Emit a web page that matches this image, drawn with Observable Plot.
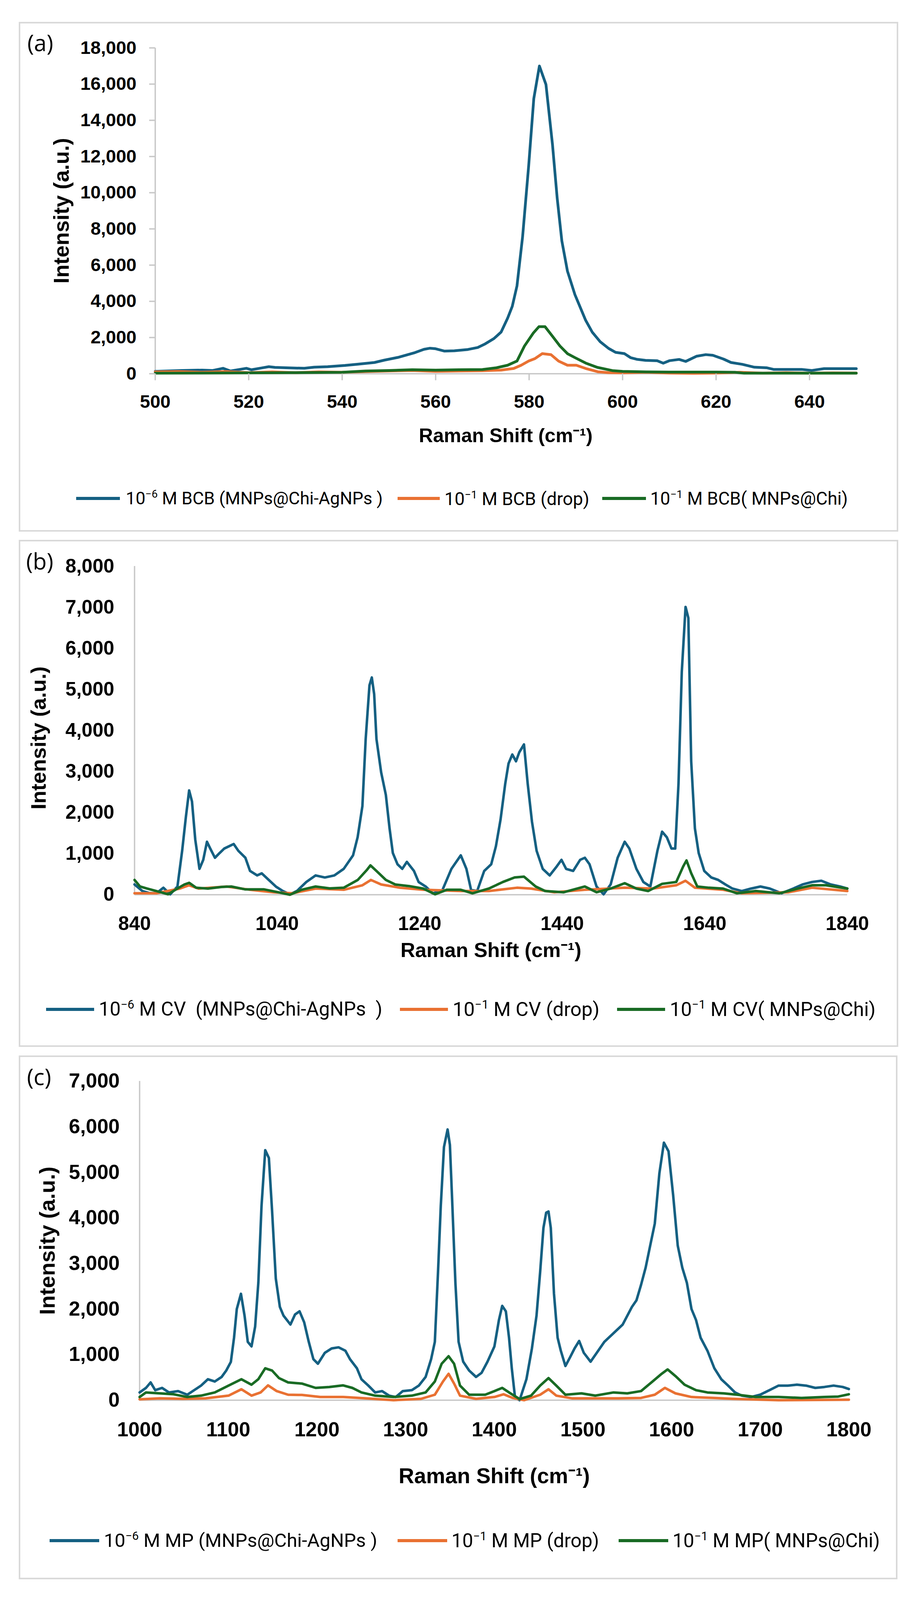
<!DOCTYPE html>
<html><head><meta charset="utf-8">
<script src="https://cdn.jsdelivr.net/npm/d3@7"></script>
<script src="https://cdn.jsdelivr.net/npm/@observablehq/plot@0.6"></script>
<style>
html,body{margin:0;padding:0;background:#fff;}
#page{position:relative;width:2348px;height:4288px;background:#fff;overflow:hidden;}
.panel{position:absolute;box-sizing:border-box;border:4px solid #d9d9d9;background:#fff;}
.tag{position:absolute;font-family:'Open Sans','Noto Sans',sans-serif;font-size:58px;line-height:1;color:#000;white-space:pre;}
.legend-line{position:absolute;height:8px;}
.legend-text{position:absolute;font-family:Roboto,'Noto Sans',sans-serif;white-space:pre;line-height:1;color:#000;}
.legend-text sup{font-size:0.62em;vertical-align:0.6em;line-height:0;}
.plotbox{position:absolute;left:0;}
.plotbox svg{overflow:visible;}
</style></head><body><div id="page"></div>
<script>
// ---------- DATA ----------
const seriesColors = ["#156082", "#E97132", "#196B24"];

// Panel (a) BCB, Raman shift 500-650
const xTicksA = [500, 520, 540, 560, 580, 600, 620, 640];
const yTicksA = [0, 2000, 4000, 6000, 8000, 10000, 12000, 14000, 16000, 18000];
const bcbAg = [[500,130],[505.6,180],[510,200],[512.3,180],[514.5,300],[516.1,150],[519.5,300],[520.6,220],[522.8,320],[524.3,390],[525.6,350],[528,330],[531.9,300],[534,360],[536.9,390],[540.6,460],[543,520],[546.9,620],[549,750],[551.9,900],[555.6,1170],[557.5,1350],[558.8,1410],[560,1380],[561.9,1250],[564,1270],[566.9,1340],[569,1450],[570.6,1650],[572.5,1950],[574,2300],[575.4,3070],[576.4,3730],[577.4,4850],[578.6,7560],[579.9,11480],[581,15200],[582.2,17000],[583.6,15980],[585,12660],[586,9710],[587,7340],[588.2,5670],[589.8,4370],[592.1,2950],[593.5,2300],[595.2,1770],[597,1400],[598.5,1180],[600.4,1110],[601.7,890],[603,800],[604.9,740],[607.4,720],[608.7,585],[610,720],[612.1,790],[613.5,680],[615.8,965],[617.8,1055],[619.3,1020],[621.6,810],[623.2,620],[625.6,520],[628.2,360],[630.8,330],[632.3,240],[635,240],[638.3,240],[640.5,180],[642,240],[643.1,280],[646,280],[650,280]];
const bcbDrop = [[500,100],[505,120],[510,80],[515,120],[520,60],[525,100],[530,60],[535,100],[540,80],[545,120],[550,150],[555,180],[560,130],[565,150],[570,170],[574,200],[576.7,290],[578.3,470],[579.9,700],[581.2,830],[582.8,1110],[584.7,1050],[586.3,700],[588.2,470],[590.1,470],[592.1,290],[594.7,110],[597,60],[600,50],[605,80],[610,40],[615,20],[620,40],[625,80],[630,30],[635,60],[640,30],[645,50],[650,40]];
const bcbChi = [[500,30],[510,40],[520,50],[530,60],[540,80],[545,150],[550,180],[555,220],[560,200],[565,220],[570,230],[573,330],[575.4,470],[577.4,700],[579,1530],[580.9,2250],[582.1,2600],[583.4,2600],[585,2070],[586.6,1530],[588.2,1110],[589.8,890],[592.1,590],[594.6,350],[597.8,175],[600,130],[605,100],[610,90],[620,90],[624,80],[626,30],[640,30],[650,30]];

// Panel (b) CV, Raman shift 840-1840
const xTicksB = [840, 1040, 1240, 1440, 1640, 1840];
const yTicksB = [0, 1000, 2000, 3000, 4000, 5000, 6000, 7000, 8000];
const cvAg = [[840,250],[851,90],[861,40],[870.7,35],[880.5,170],[890,10],[900.2,200],[906.8,1070],[912,1890],[916.6,2540],[920.6,2270],[925.2,1340],[931.1,630],[936.4,850],[941.6,1290],[946.2,1125],[952.8,900],[959.3,1015],[965.9,1125],[972.5,1180],[979.1,1235],[985.6,1070],[995.5,900],[1002,580],[1012,470],[1018.5,520],[1028.3,360],[1038.2,200],[1048,90],[1058,10],[1067.8,90],[1081,310],[1094,470],[1107,420],[1120.3,470],[1133.5,630],[1146.6,960],[1153,1400],[1159.7,2160],[1164.3,3795],[1169.6,5100],[1172.9,5290],[1176.2,4885],[1179.4,3795],[1186,2980],[1192.6,2430],[1197.8,1615],[1202.4,1015],[1209,740],[1215.6,630],[1222.1,800],[1232,580],[1238.6,310],[1248.4,200],[1258.3,35],[1271.4,90],[1284.6,630],[1297.7,960],[1305.6,630],[1312.2,115],[1320.7,90],[1330.6,580],[1340.4,740],[1347,1180],[1353.5,1830],[1360.1,2705],[1364.7,3195],[1370,3415],[1375.2,3250],[1379.8,3470],[1386.4,3660],[1391.6,2705],[1397.6,1780],[1404.1,1070],[1412.7,630],[1422.5,470],[1432.4,690],[1439,850],[1445.5,630],[1455.4,580],[1465.2,850],[1471.8,900],[1478.4,740],[1488.2,200],[1498.1,10],[1508,250],[1517.8,900],[1527.7,1290],[1534.2,1125],[1544.1,630],[1553.9,310],[1563.7,200],[1573.6,1070],[1580.2,1535],[1586.8,1400],[1593.3,1125],[1598.6,1125],[1603.2,2705],[1607.8,5430],[1613.1,7010],[1617,6740],[1621,3250],[1626.2,1615],[1631.5,1015],[1639.3,580],[1649.2,420],[1659,360],[1669,250],[1678.8,150],[1691.9,90],[1705,150],[1718.2,200],[1731.3,150],[1747.8,35],[1764.2,150],[1777.3,250],[1790.5,310],[1803.6,340],[1816.7,250],[1829.9,200],[1840,150]];
const cvDrop = [[840,35],[870.7,35],[903.5,150],[916.6,230],[929.8,150],[969.2,200],[1002,120],[1035,60],[1061.2,35],[1094,150],[1133.5,120],[1159.7,230],[1171.6,360],[1186,250],[1212.3,170],[1245,120],[1297.7,90],[1337.1,90],[1376.5,170],[1396.2,150],[1429,60],[1471.8,120],[1527.7,170],[1567,150],[1600,230],[1613,340],[1626.2,170],[1665.6,120],[1691.9,35],[1757.6,60],[1790.5,170],[1840,90]];
const cvChi = [[840,360],[847.7,200],[857.5,150],[870.7,90],[887,10],[900,150],[910,250],[916.6,290],[926.5,170],[943,150],[962.6,190],[975.8,200],[995.5,130],[1021.8,130],[1041.5,60],[1058,0],[1074.3,120],[1094,200],[1113.7,155],[1133.5,170],[1153.2,360],[1166.3,610],[1171,715],[1179.4,580],[1192.6,360],[1205.7,250],[1225.4,210],[1245.1,150],[1261.6,10],[1278,120],[1297.7,120],[1314.1,35],[1337.1,150],[1356.8,310],[1373.3,420],[1386.4,440],[1402.8,200],[1416,90],[1442.2,60],[1471.8,200],[1488.2,60],[1508,150],[1527.7,280],[1544.1,150],[1560.5,90],[1580.2,265],[1600,310],[1609.8,690],[1614.4,835],[1621,525],[1629.5,200],[1645.9,170],[1665.6,150],[1685.3,35],[1711.6,90],[1744.5,35],[1770.8,150],[1790.5,230],[1810.2,230],[1840,150]];

// Panel (c) MP, Raman shift 1000-1800
const xTicksC = [1000, 1100, 1200, 1300, 1400, 1500, 1600, 1700, 1800];
const yTicksC = [0, 1000, 2000, 3000, 4000, 5000, 6000, 7000];
const mpAg = [[1000,170],[1007.2,270],[1012.4,390],[1017.6,220],[1025.3,270],[1033.1,170],[1043.4,200],[1053.8,120],[1061.5,220],[1069.3,320],[1077,460],[1084.8,410],[1092.5,510],[1097.7,650],[1102.9,840],[1106.5,1370],[1109.6,2000],[1114.3,2335],[1118.4,1850],[1122,1280],[1126.2,1180],[1130.3,1615],[1133.9,2575],[1137.5,4260],[1141.7,5485],[1145.8,5315],[1149.4,4160],[1153.6,2670],[1158.2,2046],[1162.3,1855],[1170.1,1660],[1175.3,1880],[1180.4,1950],[1185.6,1710],[1190.8,1280],[1196,900],[1201.1,800],[1208.9,1040],[1216.6,1135],[1224.4,1160],[1232.1,1085],[1237.3,900],[1245.1,700],[1250.2,460],[1258,320],[1265.7,170],[1273.5,200],[1281.3,100],[1289,70],[1296.8,200],[1307.1,220],[1314.9,320],[1322.6,510],[1328.8,900],[1333,1280],[1336.6,2815],[1339.7,4260],[1343.3,5555],[1347.4,5940],[1350,5600],[1352.6,4355],[1356.2,2575],[1359.8,1280],[1365,845],[1371.7,650],[1379.5,510],[1385.7,600],[1392.4,845],[1400.2,1180],[1405.3,1760],[1409,2070],[1413.1,1950],[1416.7,1370],[1419.8,700],[1423.4,70],[1428.6,0],[1436.3,460],[1442.5,1135],[1447.7,1855],[1451.8,2815],[1455.5,3780],[1458.6,4115],[1461.2,4140],[1463.8,3780],[1467.4,2335],[1471.5,1370],[1475.1,1085],[1480.3,750],[1485.5,940],[1490.6,1135],[1495.8,1300],[1501,1040],[1508.7,845],[1513.9,990],[1524.2,1280],[1534.6,1470],[1544.9,1660],[1555.3,2046],[1560.4,2190],[1565.6,2530],[1570.8,2910],[1575.9,3390],[1581.1,3875],[1586.3,4980],[1591.4,5650],[1596.6,5460],[1601.8,4500],[1607,3390],[1612.1,2910],[1617.3,2575],[1622.5,2000],[1627.6,1760],[1632.8,1370],[1640.5,1085],[1648.3,700],[1656.1,460],[1663.8,320],[1671.6,170],[1679.3,100],[1689.7,70],[1700,120],[1710.4,220],[1720.7,320],[1731.1,320],[1741.4,340],[1751.8,320],[1762.1,270],[1772.4,290],[1782.8,320],[1793.1,290],[1800,245]];
const mpDrop = [[1000,20],[1022.7,40],[1048.6,30],[1074.5,40],[1100.3,100],[1114.8,240],[1126.2,100],[1136.5,170],[1144.8,325],[1154.6,200],[1167.5,120],[1183,115],[1203.7,70],[1229.6,70],[1255.4,40],[1286.4,0],[1317.4,30],[1333,120],[1342.2,410],[1348.5,580],[1354.7,365],[1361.4,100],[1379.5,30],[1400.2,70],[1410.5,130],[1420.8,50],[1433.8,0],[1451.8,120],[1461.2,240],[1470,100],[1488.1,40],[1513.9,40],[1539.8,40],[1565.6,50],[1581.1,120],[1592.5,270],[1604.4,150],[1622.5,70],[1648.3,50],[1669,30],[1720.7,0],[1800,10]];
const mpChi = [[1000,70],[1007.2,170],[1022.7,150],[1038.3,130],[1053.8,70],[1069.3,100],[1084.8,170],[1100.3,320],[1114.8,460],[1126.2,340],[1133.9,460],[1141.7,700],[1149.4,650],[1157.2,485],[1167.5,390],[1183,365],[1198.5,270],[1214,290],[1229.6,325],[1239.9,270],[1250.2,170],[1265.7,100],[1286.4,70],[1307.1,100],[1322.6,170],[1333,410],[1340.7,800],[1348.5,965],[1354.7,800],[1361.4,320],[1371.7,120],[1389.8,120],[1400.2,200],[1409,270],[1418.3,150],[1428.6,25],[1441.5,100],[1451.8,320],[1461.2,485],[1470,320],[1480.3,120],[1498.4,150],[1513.9,100],[1534.6,170],[1550.1,150],[1565.6,200],[1578.5,410],[1588.9,580],[1595.6,675],[1604.4,530],[1614.7,340],[1627.6,220],[1640.5,170],[1658.7,150],[1674.2,120],[1694.9,70],[1720.7,70],[1746.6,50],[1772.4,70],[1788,80],[1800,130]];

// Labels
const panelTags = ["(a)", "(b)", "(c)"];
const xLabel = "Raman Shift (cm\u207B\u00B9)";
const yLabel = "Intensity (a.u.)";
const legendA = [["\u22126", " M BCB (MNPs@Chi-AgNPs )"], ["\u22121", " M BCB (drop)"], ["\u22121", " M BCB( MNPs@Chi)"]];
const legendB = [["\u22126", " M CV  (MNPs@Chi-AgNPs  )"], ["\u22121", " M CV (drop)"], ["\u22121", " M CV( MNPs@Chi)"]];
const legendC = [["\u22126", " M MP (MNPs@Chi-AgNPs )"], ["\u22121", " M MP (drop)"], ["\u22121", " M MP( MNPs@Chi)"]];

// ---------- LAYOUT ----------
// The design is laid out on a 2348 x 4288 grid; if the window shows less height,
// vertical positions are compressed so that the whole figure stays visible.
const DESIGN_H = 4288;
const KY = Math.min(1, (window.innerHeight || DESIGN_H) / DESIGN_H);
const Y = v => v * KY;

const page = document.getElementById("page");
page.style.height = Math.floor(Y(DESIGN_H)) + "px";
const fmtY = d3.format(",");
const axisGray = "#c8c8c8";

const panels = [
  {box:[48,59,2252,1366], tagBase:[70,138], svgTop:64, height:1166, mL:397, mR:156, mT:64, mB:229,
   xDomain:[500,650], yDomain:[0,18000], xTicks:xTicksA, yTicks:yTicksA, series:[bcbAg,bcbDrop,bcbChi], sw:7,
   tickFont:47, xTickSize:18, yTickSize:15, xPad:38, yPad:33, yLabFont:55, yLabDx:-239, yLabDy:0, xLabFont:50, xLabDy:167,
   legend:legendA, legCy:1336, legItems:[[195,307,322,980],[1018,1126,1138,1509],[1542,1654,1665,2171]]},
  {box:[48,1447,2252,1359], tagBase:[67,1527], svgTop:1452, height:1168, mL:344, mR:179, mT:65, mB:223,
   xDomain:[840,1840], yDomain:[0,8000], xTicks:xTicksB, yTicks:yTicksB, series:[cvAg,cvDrop,cvChi], sw:6.5,
   tickFont:50, xTickSize:0, yTickSize:0, xPad:58, yPad:52, yLabFont:54, yLabDx:-245, yLabDy:20, xLabFont:52, xLabDy:150,
   legend:legendB, legCy:2705, legItems:[[118,241,253,979],[1024,1147,1159,1535],[1580,1703,1715,2242]]},
  {box:[48,2829,2250,1403], tagBase:[69,2909], svgTop:2834, height:1186, mL:357, mR:175, mT:63, mB:268,
   xDomain:[1000,1800], yDomain:[0,7000], xTicks:xTicksC, yTicks:yTicksC, series:[mpAg,mpDrop,mpChi], sw:6.5,
   tickFont:52, xTickSize:0, yTickSize:0, xPad:58, yPad:51, yLabFont:56, yLabDx:-235, yLabDy:0, xLabFont:55, xLabDy:204,
   legend:legendC, legCy:4129, legItems:[[127,254,266,966],[1018,1145,1156,1534],[1584,1711,1722,2253]]}
];

panels.forEach((p, i) => {
  const box = document.createElement("div");
  box.className = "panel";
  Object.assign(box.style, {left:p.box[0]+"px", top:Y(p.box[1])+"px", width:p.box[2]+"px", height:Y(p.box[3])+"px"});
  page.appendChild(box);

  const tag = document.createElement("div");
  tag.className = "tag";
  tag.textContent = panelTags[i];
  Object.assign(tag.style, {left:p.tagBase[0]+"px", top:(Y(p.tagBase[1]) - 0.888 * 58)+"px"});
  page.appendChild(tag);

  const chart = Plot.plot({
    width: 2348, height: Math.round(Y(p.height)),
    marginLeft: p.mL, marginRight: p.mR, marginTop: Y(p.mT), marginBottom: Y(p.mB),
    style: {background:"transparent", color:"#000", fontFamily:"'Liberation Sans', Arial, sans-serif", fontWeight:"bold", overflow:"visible"},
    x: {domain: p.xDomain},
    y: {domain: p.yDomain},
    marks: [
      Plot.ruleY([0], {stroke: axisGray, strokeWidth: 3.5}),
      Plot.ruleX([p.xDomain[0]], {stroke: axisGray, strokeWidth: 3.5}),
      ...p.series.map((s, k) => Plot.line(s, {x: d => d[0], y: d => d[1], stroke: seriesColors[k], strokeWidth: p.sw, strokeLinejoin: "round", strokeLinecap: "round"})),
      Plot.axisX({ticks: p.xTicks, tickFormat: d => String(d), tickSize: Y(p.xTickSize), tickPadding: Y(p.xPad), label: null,
        fontSize: p.tickFont, fontWeight: "bold", stroke: axisGray, strokeWidth: 3.5, fill: "#000"}),
      Plot.axisY({ticks: p.yTicks, tickFormat: fmtY, tickSize: p.yTickSize, tickPadding: p.yPad, label: null,
        fontSize: p.tickFont, fontWeight: "bold", stroke: axisGray, strokeWidth: 3.5, fill: "#000"}),
      Plot.text([yLabel], {text: d => d, frameAnchor: "left", textAnchor: "middle", rotate: -90, dx: p.yLabDx, dy: Y(p.yLabDy), lineAnchor: "middle",
        fontSize: p.yLabFont, fontWeight: "bold", fill: "#000"}),
      Plot.text([xLabel], {text: d => d, frameAnchor: "bottom", textAnchor: "middle", dy: Y(p.xLabDy), lineAnchor: "middle",
        fontSize: p.xLabFont, fontWeight: "bold", fill: "#000"})
    ]
  });
  const holder = document.createElement("div");
  holder.className = "plotbox";
  holder.style.top = Y(p.svgTop) + "px";
  holder.appendChild(chart);
  page.appendChild(holder);

  // legend
  const cy = Y(p.legCy);
  p.legend.forEach((lab, k) => {
    const [l0, l1, t0, t1] = p.legItems[k];
    const line = document.createElement("div");
    line.className = "legend-line";
    Object.assign(line.style, {left:l0+"px", width:(l1-l0)+"px", top:(cy-4)+"px", background:seriesColors[k]});
    page.appendChild(line);
    const span = document.createElement("div");
    span.className = "legend-text";
    span.appendChild(document.createTextNode("10"));
    const sup = document.createElement("sup");
    sup.textContent = lab[0];
    span.appendChild(sup);
    span.appendChild(document.createTextNode(lab[1]));
    let fs = 48;
    span.style.fontSize = fs + "px";
    span.style.left = t0 + "px";
    page.appendChild(span);
    for (let it = 0; it < 3; it++) {
      const w = span.getBoundingClientRect().width;
      fs = fs * (t1 - t0) / w;
      span.style.fontSize = fs + "px";
    }
    span.style.top = (cy - 0.49 * fs) + "px";
  });
});
</script>
</body></html>
